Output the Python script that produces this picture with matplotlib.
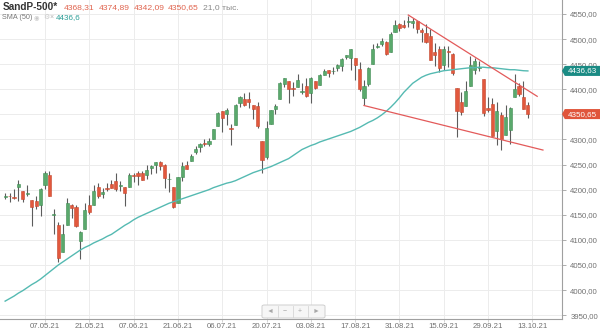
import matplotlib
matplotlib.use("Agg")
import matplotlib.pyplot as plt
from matplotlib.patches import Rectangle, Polygon, FancyBboxPatch
from matplotlib.transforms import blended_transform_factory
from matplotlib.lines import Line2D

plt.rcParams["font.family"] = ["Liberation Sans", "DejaVu Sans"]

# ── Daily OHLC, 26.04.21 … 12.10.21 ──────────────────
opens = [4185.03, 4188.25, 4185.14, 4206.14, 4198.10, 4191.98, 4179.04, 4177.06, 4169.14, 4210.34,
         4228.29, 4150.34, 4130.55, 4074.99, 4129.58, 4169.92, 4165.94, 4098.45, 4121.97, 4168.61,
         4170.16, 4205.94, 4191.59, 4201.94, 4210.77, 4216.52, 4206.82, 4206.05, 4206.05, 4229.34,
         4233.81, 4232.99, 4228.56, 4242.90, 4248.31, 4255.28, 4248.87, 4220.37, 4204.78, 4173.40,
         4224.61, 4249.27, 4256.97, 4274.45, 4284.90, 4293.21, 4290.65, 4300.73, 4326.60, 4356.46,
         4351.01, 4321.07, 4329.38, 4372.41, 4381.07, 4380.11, 4369.02, 4367.43, 4296.40, 4265.11,
         4331.13, 4361.27, 4381.20, 4409.58, 4416.38, 4402.95, 4403.59, 4395.12, 4406.86, 4392.74,
         4415.95, 4408.86, 4429.07, 4437.77, 4435.79, 4442.18, 4446.08, 4464.84, 4461.65, 4462.12,
         4440.94, 4382.44, 4410.56, 4450.29, 4484.40, 4490.45, 4493.75, 4474.10, 4513.76, 4529.75,
         4528.80, 4534.48, 4532.42, 4535.38, 4518.09, 4513.02, 4506.92, 4474.81, 4479.33, 4447.49,
         4477.09, 4469.74, 4402.95, 4374.45, 4367.43, 4406.75, 4438.04, 4442.12, 4419.54, 4362.41,
         4370.67, 4317.16, 4348.84, 4309.87, 4319.57, 4383.73, 4406.51, 4385.44, 4368.31]
highs = [4194.19, 4193.35, 4201.53, 4218.78, 4198.10, 4209.39, 4179.04, 4187.72, 4202.70, 4238.04,
         4236.39, 4162.04, 4134.73, 4131.58, 4183.13, 4171.92, 4169.15, 4116.93, 4172.80, 4188.72,
         4209.52, 4213.42, 4202.61, 4213.38, 4218.36, 4234.12, 4217.37, 4206.05, 4233.45, 4232.34,
         4236.74, 4237.09, 4249.74, 4248.38, 4255.59, 4257.16, 4251.89, 4232.29, 4204.78, 4226.24,
         4255.84, 4256.60, 4271.28, 4286.12, 4292.14, 4300.52, 4302.43, 4320.66, 4355.43, 4356.46,
         4361.88, 4330.88, 4371.60, 4386.68, 4392.37, 4393.68, 4369.02, 4375.09, 4296.40, 4336.84,
         4359.70, 4369.87, 4415.18, 4422.73, 4416.38, 4415.47, 4429.97, 4412.25, 4422.18, 4423.79,
         4416.17, 4429.76, 4440.82, 4439.39, 4445.21, 4449.44, 4461.77, 4468.37, 4480.26, 4462.12,
         4454.32, 4418.61, 4444.35, 4489.88, 4492.81, 4501.71, 4495.90, 4513.33, 4537.36, 4531.39,
         4537.11, 4545.85, 4541.45, 4535.38, 4521.79, 4529.90, 4520.47, 4492.99, 4485.68, 4486.87,
         4485.87, 4471.52, 4402.95, 4394.87, 4416.75, 4465.40, 4463.12, 4457.30, 4419.54, 4385.57,
         4382.55, 4375.19, 4355.51, 4369.23, 4365.57, 4429.97, 4412.02, 4415.88, 4374.89]
lows = [4182.36, 4176.22, 4181.78, 4176.81, 4174.85, 4188.03, 4128.59, 4160.94, 4147.33, 4201.64,
        4188.13, 4111.53, 4056.88, 4074.99, 4129.58, 4142.69, 4125.99, 4061.41, 4121.97, 4151.72,
        4170.16, 4182.52, 4184.11, 4197.78, 4203.57, 4197.59, 4198.27, 4167.93, 4206.05, 4215.66,
        4208.41, 4218.74, 4220.34, 4232.25, 4234.07, 4238.35, 4202.45, 4196.05, 4164.40, 4173.40,
        4217.27, 4241.43, 4256.97, 4271.16, 4274.67, 4287.04, 4287.96, 4300.73, 4326.60, 4314.37,
        4329.79, 4289.37, 4329.38, 4364.03, 4366.92, 4362.36, 4340.70, 4322.53, 4233.13, 4262.05,
        4331.13, 4350.06, 4381.20, 4405.45, 4372.51, 4387.01, 4403.59, 4389.65, 4384.81, 4373.00,
        4400.23, 4408.86, 4429.07, 4424.74, 4430.03, 4436.42, 4435.96, 4460.82, 4437.66, 4417.83,
        4397.59, 4367.73, 4406.80, 4450.29, 4482.28, 4485.66, 4468.99, 4474.10, 4513.76, 4515.80,
        4522.02, 4524.66, 4521.30, 4513.00, 4493.95, 4492.07, 4457.66, 4445.70, 4435.46, 4438.37,
        4443.80, 4427.76, 4305.91, 4347.96, 4367.43, 4406.75, 4430.27, 4436.19, 4346.33, 4355.08,
        4306.24, 4288.52, 4278.94, 4309.87, 4290.49, 4383.73, 4386.22, 4360.59, 4342.09]
closes = [4187.62, 4186.72, 4183.18, 4211.47, 4181.17, 4192.66, 4164.66, 4167.59, 4201.62, 4232.60,
          4188.43, 4152.10, 4063.04, 4112.50, 4173.85, 4163.29, 4127.83, 4115.68, 4159.12, 4155.86,
          4197.05, 4188.13, 4195.99, 4200.88, 4204.11, 4202.04, 4208.12, 4192.85, 4229.89, 4226.52,
          4227.26, 4219.55, 4239.18, 4247.44, 4255.15, 4246.59, 4223.70, 4221.86, 4166.45, 4224.79,
          4246.44, 4241.84, 4266.49, 4280.70, 4290.61, 4291.80, 4297.50, 4319.94, 4352.34, 4343.54,
          4358.13, 4320.82, 4369.55, 4384.63, 4369.21, 4374.30, 4360.03, 4327.16, 4258.49, 4323.06,
          4358.69, 4367.48, 4411.79, 4422.30, 4401.46, 4400.64, 4419.15, 4395.26, 4387.16, 4423.15,
          4402.66, 4429.10, 4436.52, 4432.35, 4436.75, 4447.70, 4460.83, 4468.00, 4479.71, 4448.08,
          4400.27, 4405.80, 4441.67, 4479.53, 4486.23, 4496.19, 4470.00, 4509.37, 4528.79, 4522.68,
          4524.09, 4536.95, 4535.43, 4520.03, 4514.07, 4493.28, 4458.58, 4468.73, 4443.05, 4480.70,
          4473.75, 4432.99, 4357.73, 4354.19, 4395.64, 4448.98, 4455.48, 4443.11, 4352.63, 4359.46,
          4307.54, 4357.04, 4300.46, 4345.72, 4363.55, 4399.76, 4391.34, 4361.19, 4350.65]
# SMA(50) as drawn on the chart
sma50 = [3978, 3983, 3988, 3994, 3999, 4005, 4011, 4016, 4022, 4029,
         4036, 4043, 4050, 4056, 4062, 4068, 4074, 4080, 4085, 4089,
         4094, 4098, 4102, 4107, 4111, 4117, 4123, 4129, 4134, 4140,
         4145, 4149, 4153, 4157, 4161, 4165, 4169, 4173, 4176, 4179,
         4182, 4185, 4188, 4191, 4194, 4197, 4200, 4204, 4207, 4210,
         4213, 4215, 4218, 4222, 4226, 4230, 4234, 4237, 4240, 4243,
         4246, 4250, 4254, 4258, 4262, 4268, 4274, 4280, 4284, 4288,
         4291, 4295, 4298, 4301, 4304, 4307, 4310, 4313, 4316, 4320,
         4324, 4329, 4334, 4338, 4343, 4349, 4356, 4364, 4373, 4383,
         4394, 4403, 4412, 4418, 4424, 4428, 4431, 4433, 4435, 4437,
         4438, 4439, 4440, 4441, 4442, 4443, 4443, 4444, 4444, 4443,
         4443, 4442, 4441, 4440, 4439, 4439, 4438, 4437, 4436.6]

tick_pos = [9, 19, 29, 39, 49, 59, 69, 79, 89, 99, 109, 119]
tick_labels = ["07.05.21", "21.05.21", "07.06.21", "21.06.21", "06.07.21", "20.07.21",
               "03.08.21", "17.08.21", "31.08.21", "15.09.21", "29.09.21", "13.10.21"]
y_ticks = list(range(3950, 4551, 50))

# ── Colours ──────────────────────────────────────────
C_UP, C_UP_E = "#5aa96c", "#3f8c53"
C_DN, C_DN_E = "#e2583d", "#c4472e"
C_WICK = "#5c5c5c"
C_SMA = "#55bab2"
C_TREND = "#e35a5a"
C_GRID = "#ececec"
C_AXIS = "#a0a0a0"
C_TXT = "#707070"

W, H = 600, 330
fig = plt.figure(figsize=(W / 100, H / 100), dpi=100)
ax = fig.add_axes([0, 11 / H, 562 / W, 319 / H])
ax.set_xlim(-1.16, 125.7)
ax.set_ylim(3942.4, 4577.9)

# grid + axes
for y in y_ticks:
    ax.axhline(y, color=C_GRID, lw=0.7, zorder=0)
for x in tick_pos:
    ax.axvline(x, color=C_GRID, lw=0.7, zorder=0)
for s in ("left", "top"):
    ax.spines[s].set_visible(False)
for s in ("right", "bottom"):
    ax.spines[s].set_color(C_AXIS)
    ax.spines[s].set_linewidth(0.8)
ax.yaxis.tick_right()
ax.set_yticks(y_ticks)
# the 4350 label sits under the last-price tag, as on the original
ax.set_yticklabels(["" if v == 4350 else f"{v},00" for v in y_ticks])
ax.set_xticks(tick_pos)
ax.set_xticklabels(tick_labels)
ax.tick_params(axis="y", length=3, width=0.6, color=C_AXIS, labelsize=5.6,
               labelcolor=C_TXT, pad=3)
ax.tick_params(axis="x", length=2, width=0.6, color="#cccccc", labelsize=5.6,
               labelcolor=C_TXT, pad=1)

# ── candles ──
for i, (o, h, l, c) in enumerate(zip(opens, highs, lows, closes)):
    up = c >= o
    ax.vlines(i, l, h, color=C_WICK, lw=0.8, zorder=2)
    bot = min(o, c)
    hgt = max(abs(c - o), 1.6)
    ax.add_patch(Rectangle((i - 0.36, bot), 0.72, hgt,
                           facecolor=C_UP if up else C_DN,
                           edgecolor=C_UP_E if up else C_DN_E,
                           lw=0.4, zorder=3))

# SMA(50)
ax.plot(range(len(sma50)), sma50, color=C_SMA, lw=1.0, zorder=4)

# drawn trend lines (wedge)
ax.plot([91, 120.1], [4548, 4386], color=C_TREND, lw=0.9, zorder=5)
ax.plot([81, 121.4], [4367.7, 4279], color=C_TREND, lw=0.9, zorder=5)

# ── price tags on right axis ──
bt = blended_transform_factory(ax.transAxes, ax.transData)
def price_tag(v, txt, col):
    hh = 10.0
    ax.add_patch(Polygon([(1.0, v), (1.005, v + hh), (1.068, v + hh),
                          (1.068, v - hh), (1.005, v - hh)],
                         closed=True, transform=bt, facecolor=col,
                         edgecolor="none", clip_on=False, zorder=6))
    ax.text(1.037, v, txt, transform=bt, ha="center", va="center",
            fontsize=5.8, color="white", clip_on=False, zorder=7)

price_tag(4436.63, "4436,63", "#1a8b84")
price_tag(4350.65, "4350,65", "#e0553b")

# ── header ──
def fy(py):
    return 1 - py / H

fig.text(3 / W, fy(7.5), "SandP-500*", fontsize=7.2, fontweight="bold",
         color="#333333", va="center")
for px, s in zip([64, 99, 134, 168], ["4368,31", "4374,89", "4342,09", "4350,65"]):
    fig.text(px / W, fy(7.5), s, fontsize=6.1, color="#e0644e", va="center")
fig.text(203 / W, fy(7.5), "21,0 тыс.", fontsize=6.1, color="#888888", va="center")

fig.text(2 / W, fy(17.5), "SMA (50)", fontsize=5.2, color="#777777", va="center")
fig.text(34 / W, fy(17.5), "◉", fontsize=4.5, color="#c8c8c8", va="center")
fig.text(43 / W, fy(17.5), "⚙", fontsize=5, color="#c8c8c8", va="center")
fig.text(50 / W, fy(17.5), "×", fontsize=5, color="#b0b0b0", va="center")
fig.text(56 / W, fy(17.5), "4436,6", fontsize=5.8, color="#2a9d96", va="center")

# ── navigation control ──
fig.add_artist(FancyBboxPatch((262 / W, fy(318)), 63 / W, 13 / H,
                              boxstyle="round,pad=0,rounding_size=0.004",
                              transform=fig.transFigure, facecolor="#f6f6f6",
                              edgecolor="#cfcfcf", lw=0.7))
for sx in [277.7, 292.7, 307.7]:
    fig.add_artist(Line2D([sx / W, sx / W], [fy(317), fy(306)],
                          transform=fig.transFigure, color="#d6d6d6", lw=0.6))
for px, s in zip([270, 285, 300, 316], ["◄", "−", "+", "►"]):
    fig.text(px / W, fy(311.5), s, fontsize=5, color="#a8a8a8",
             ha="center", va="center")

fig.savefig("out.png", dpi=100, facecolor="white")
